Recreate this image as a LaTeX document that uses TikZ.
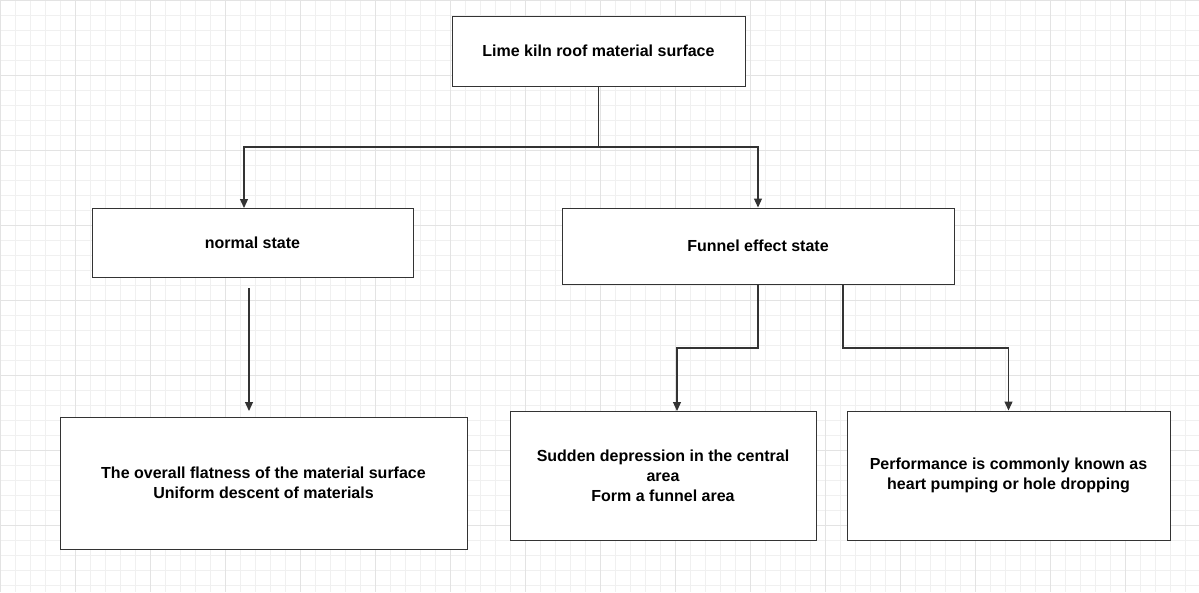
\documentclass[tikz,border=0pt]{standalone}
\usepackage{fontspec}
\setmainfont{Liberation Sans}
\usetikzlibrary{arrows.meta}
\begin{document}
\begin{tikzpicture}[x=1pt,y=-1pt,
  box/.style={draw=black!80,line width=1pt,fill=white,align=center,font=\bfseries\fontsize{16}{20}\selectfont},
  conn/.style={draw=black!80,line width=1.2pt},
  arr/.style={conn,-{Triangle[length=9pt,width=8pt]}}]
\fill[white] (0,0) rectangle (1199,592);
\useasboundingbox (0,0) rectangle (1199,592);
\foreach \i in {0,15,...,1199} \draw[black!6,line width=0.6pt] (\i,0) -- (\i,592);
\foreach \i in {0,15,...,592} \draw[black!6,line width=0.6pt] (0,\i) -- (1199,\i);
\foreach \i in {0,75,...,1199} \draw[black!11,line width=0.6pt] (\i,0) -- (\i,592);
\foreach \i in {0,75,...,592} \draw[black!11,line width=0.6pt] (0,\i) -- (1199,\i);
\node[box,minimum width=293,minimum height=70] (top) at (598.5,51) {Lime kiln roof material surface};
\node[box,minimum width=321,minimum height=69] (normal) at (252.5,242.5) {normal state};
\node[box,minimum width=392,minimum height=76] (funnel) at (758,246) {Funnel effect state};
\node[box,minimum width=407,minimum height=132] (b1) at (263.5,483) {The overall flatness of the material surface\\Uniform descent of materials};
\node[box,minimum width=306,minimum height=129] (b2) at (663,475.5) {Sudden depression in the central\\area\\Form a funnel area};
\node[box,minimum width=323,minimum height=129] (b3) at (1008.5,475.5) {Performance is commonly known as\\heart pumping or hole dropping};
\coordinate (j) at (598.5,147);
\draw[conn] (top.south) -- (j);
\draw[arr] (j) -| (244,208);
\draw[arr] (j) -| (funnel.north);
\coordinate (ns) at (249,288);
\draw[arr] (ns) -- (249,411);
\draw[arr] (funnel.south) -- (758,348) -| (677,411);
\draw[arr] (843,284) -- (843,348) -| (b3.north);
\end{tikzpicture}
\end{document}
